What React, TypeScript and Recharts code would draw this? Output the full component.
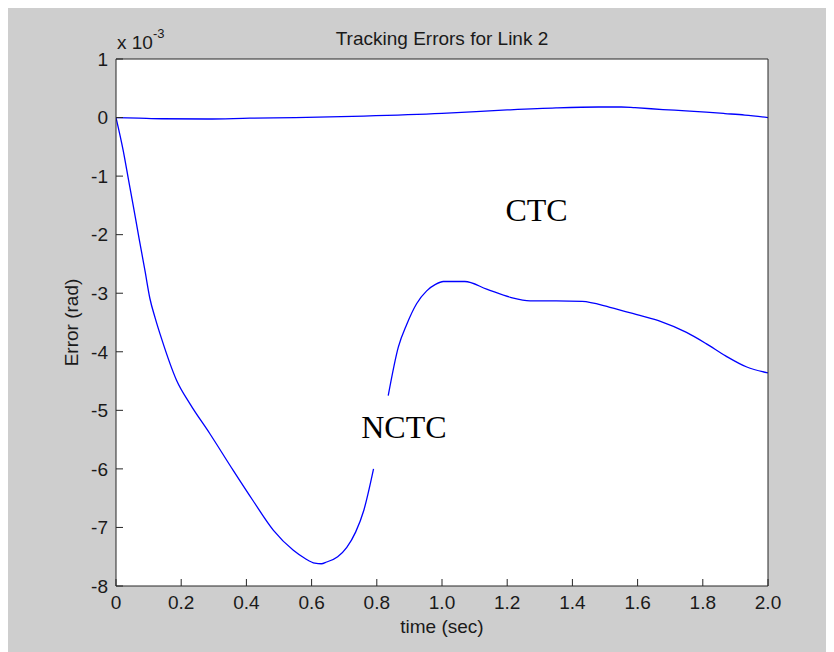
import React from 'react';
import { LineChart, Line, XAxis, YAxis, CartesianGrid, ReferenceDot } from 'recharts';

const xTicks = [0, 0.2, 0.4, 0.6, 0.8, 1.0, 1.2, 1.4, 1.6, 1.8, 2.0];
const yTicks = [-8, -7, -6, -5, -4, -3, -2, -1, 0, 1];

const chartTitle = 'Tracking Errors for Link 2';
const xLabel = 'time (sec)';
const yLabel = 'Error (rad)';
const scaleBase = 'x 10';
const scaleExp = '-3';

// NCTC (errors in units of 1e-3 rad); null marks the gap hidden behind the label
const nctcTime = [0, 0.022, 0.038, 0.053, 0.071, 0.089, 0.104, 0.12, 0.14, 0.186, 0.227, 0.288, 0.36, 0.42, 0.483, 0.544, 0.58, 0.61, 0.63, 0.646, 0.68, 0.708, 0.735, 0.76, 0.79, 0.81, 0.835, 0.866, 0.892, 0.922, 0.953, 0.98, 1.004, 1.07, 1.137, 1.21, 1.27, 1.35, 1.43, 1.515, 1.607, 1.67, 1.75, 1.81, 1.87, 1.935, 2.0];
const nctcError: (number | null)[] = [0, -0.56, -1.05, -1.51, -2.07, -2.62, -3.09, -3.42, -3.78, -4.49, -4.89, -5.40, -6.03, -6.54, -7.05, -7.39, -7.53, -7.61, -7.62, -7.59, -7.50, -7.34, -7.08, -6.71, -6.00, null, -4.75, -3.92, -3.53, -3.18, -2.96, -2.85, -2.80, -2.80, -2.93, -3.07, -3.13, -3.13, -3.14, -3.24, -3.38, -3.48, -3.67, -3.86, -4.07, -4.26, -4.36];

// CTC
const ctcTime = [0, 0.07, 0.14, 0.28, 0.41, 0.55, 0.76, 1.0, 1.2, 1.35, 1.48, 1.55, 1.592, 1.678, 1.748, 1.81, 1.868, 1.929, 2.0];
const ctcError = [0, -0.01, -0.02, -0.025, -0.01, 0.0, 0.025, 0.07, 0.13, 0.165, 0.18, 0.18, 0.168, 0.137, 0.114, 0.092, 0.068, 0.042, 0];

const labelNames = ['CTC', 'NCTC'];
const labelTime = [1.29, 0.883];
const labelError = [-1.575, -5.28];

const nctcData = nctcTime.map((t, i) => ({ t, v: nctcError[i] }));
const ctcData = ctcTime.map((t, i) => ({ t, v: ctcError[i] }));

const SANS = '"Liberation Sans", Arial, sans-serif';
const SERIF = '"Liberation Serif", "Times New Roman", serif';
const AXIS = '#262626';
const TEXT = '#1a1a1a';
const BLUE = '#0000ff';

const tickStyle = { fontSize: 19, fill: TEXT, fontFamily: SANS };

const TitleContent = (props: any) => {
  const vb = props.viewBox || {};
  return (
    <g>
      <text x={vb.x + vb.width / 2} y={vb.y - 4.5} textAnchor="middle" fontSize={19} fontFamily={SANS} fill={TEXT}>
        {chartTitle}
      </text>
      <text x={vb.x + 1} y={vb.y} textAnchor="start" fontSize={19} fontFamily={SANS} fill={TEXT}>
        {scaleBase}
      </text>
      <text x={vb.x + 37} y={vb.y - 11} textAnchor="start" fontSize={13} fontFamily={SANS} fill={TEXT}>
        {scaleExp}
      </text>
    </g>
  );
};

const YLabelContent = (props: any) => {
  const vb = props.viewBox || {};
  const cx = vb.x + 22;
  const cy = vb.y + vb.height / 2;
  return (
    <text x={cx} y={cy} transform={`rotate(-90, ${cx}, ${cy})`} textAnchor="middle" fontSize={19} fontFamily={SANS} fill={TEXT}>
      {yLabel}
    </text>
  );
};

const XLabelContent = (props: any) => {
  const vb = props.viewBox || {};
  return (
    <text x={vb.x + vb.width / 2} y={vb.y + 47} textAnchor="middle" fontSize={19} fontFamily={SANS} fill={TEXT}>
      {xLabel}
    </text>
  );
};

const fmtX = (v: number) => (v === 0 ? '0' : v.toFixed(1));
const fmtY = (v: number) => String(v);

export default function App() {
  return (
    <div style={{ marginLeft: -2, width: 828, height: 644, background: '#cecece' }}>
      <LineChart
        width={828}
        height={644}
        margin={{ top: 41, right: 56, bottom: 36, left: 50 }}
        style={{ fontFamily: SANS }}
      >
        <CartesianGrid horizontal={false} vertical={false} fill="#ffffff" fillOpacity={1} stroke="none" />
        <XAxis
          dataKey="t"
          type="number"
          domain={[0, 2]}
          ticks={xTicks}
          interval={0}
          tickFormatter={fmtX}
          tick={tickStyle}
          tickSize={-7}
          tickMargin={17}
          height={30}
          axisLine={{ stroke: AXIS, strokeWidth: 1 }}
          tickLine={{ stroke: AXIS, strokeWidth: 1 }}
          allowDataOverflow
          label={{ content: XLabelContent }}
        />
        <XAxis
          xAxisId="top"
          orientation="top"
          type="number"
          domain={[0, 2]}
          ticks={xTicks}
          interval={0}
          tick={false}
          tickSize={-7}
          height={10}
          axisLine={{ stroke: AXIS, strokeWidth: 1 }}
          tickLine={{ stroke: AXIS, strokeWidth: 1 }}
          allowDataOverflow
          label={{ content: TitleContent }}
        />
        <YAxis
          type="number"
          domain={[-8, 1]}
          ticks={yTicks}
          interval={0}
          tickFormatter={fmtY}
          tick={tickStyle}
          tickSize={-7}
          tickMargin={15}
          width={60}
          axisLine={{ stroke: AXIS, strokeWidth: 1 }}
          tickLine={{ stroke: AXIS, strokeWidth: 1 }}
          allowDataOverflow
          label={{ content: YLabelContent }}
        />
        <YAxis
          yAxisId="right"
          orientation="right"
          type="number"
          domain={[-8, 1]}
          ticks={yTicks}
          interval={0}
          tick={false}
          tickSize={-7}
          width={10}
          axisLine={{ stroke: AXIS, strokeWidth: 1 }}
          tickLine={{ stroke: AXIS, strokeWidth: 1 }}
          allowDataOverflow
        />
        <Line
          data={ctcData}
          dataKey="v"
          type="monotone"
          stroke={BLUE}
          strokeWidth={1.3}
          dot={false}
          activeDot={false}
          isAnimationActive={false}
        />
        <Line
          data={nctcData}
          dataKey="v"
          type="monotone"
          stroke={BLUE}
          strokeWidth={1.3}
          dot={false}
          activeDot={false}
          connectNulls={false}
          isAnimationActive={false}
        />
        {labelNames.map((name, i) => (
          <ReferenceDot
            key={name}
            x={labelTime[i]}
            y={labelError[i]}
            r={0}
            fill="none"
            stroke="none"
            label={{ value: name, position: 'center', fontSize: 32, fontFamily: SERIF, fill: '#000' }}
          />
        ))}
      </LineChart>
    </div>
  );
}
